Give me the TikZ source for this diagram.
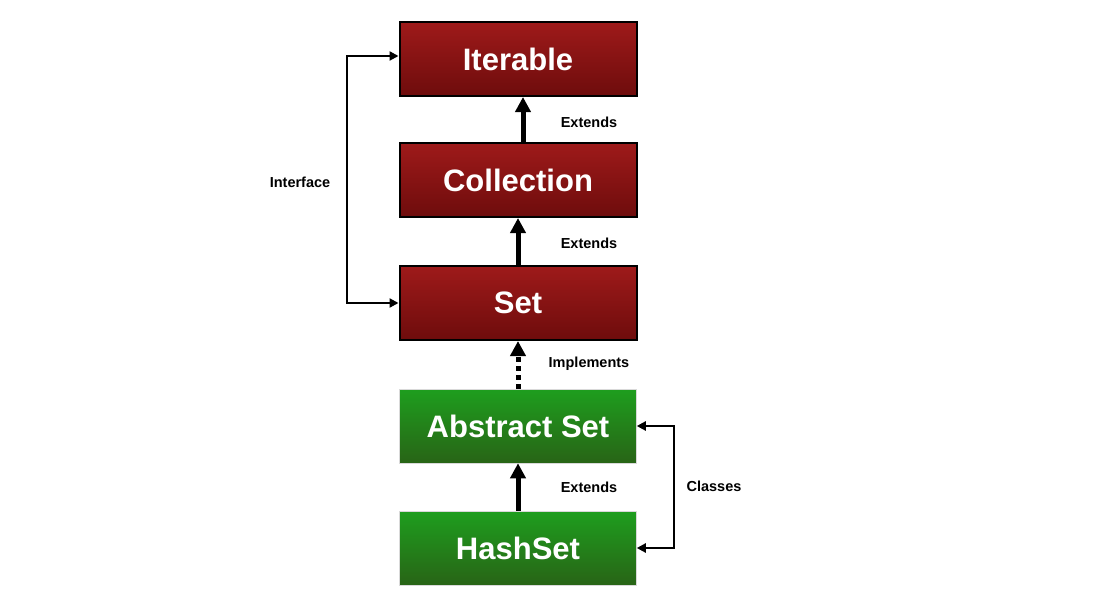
\documentclass[tikz,border=0pt]{standalone}
\usepackage{fontspec}
\setmainfont{Liberation Sans}
\usetikzlibrary{arrows.meta}
\definecolor{redtop}{RGB}{158,26,26}
\definecolor{redbot}{RGB}{110,12,12}
\definecolor{greentop}{RGB}{30,158,30}
\definecolor{greenbot}{RGB}{40,100,22}

\begin{document}
\begin{tikzpicture}[x=1pt,y=-1pt,
  redbox/.style={draw=black,line width=2pt,minimum width=237pt,minimum height=74pt,
    top color=redtop,bottom color=redbot,
    text=white,font=\fontsize{31}{36}\bfseries\selectfont},
  greenbox/.style={draw=black!15,line width=0.5pt,minimum width=237pt,minimum height=74pt,
    top color=greentop,bottom color=greenbot,
    text=white,font=\fontsize{31}{36}\bfseries\selectfont},
  relarrow/.style={line width=5pt,-{Triangle[width=15pt,length=15pt]}},
  sidearrow/.style={line width=2.2pt,{Triangle[width=9pt,length=9pt]}-{Triangle[width=9pt,length=9pt]}},
  lbl/.style={font=\fontsize{14.5}{17}\bfseries\selectfont}]
\useasboundingbox (0,0) rectangle (1105,594);
\node[redbox] (iter) at (518,59) {Iterable};
\node[redbox] (coll) at (518,180) {Collection};
\node[redbox] (set) at (518,303) {Set};
\node[greenbox] (abs) at (518,426) {Abstract Set};
\node[greenbox] (hash) at (518,548) {HashSet};
\draw[relarrow] ([xshift=5pt]coll.north) -- ([xshift=5pt]iter.south);
\draw[relarrow] (set.north) -- (coll.south);
\draw[relarrow,dash pattern=on 5pt off 4pt] (abs.north) -- (set.south);
\draw[relarrow] (hash.north) -- (abs.south);
\node[lbl] (ext1) at (589,122) {Extends};
\node[lbl] (ext2) at (589,243) {Extends};
\node[lbl] (impl) at (589,364) {Implements};
\node[lbl] (ext3) at (589,487) {Extends};
% side brackets
\coordinate (ifc) at (347,180);
\coordinate (cls) at (674,487);
\draw[sidearrow] ([yshift=3pt]iter.west) -| (ifc) |- (set.west);
\draw[sidearrow] (abs.east) -| (cls) |- (hash.east);
\node[lbl] (ifclbl) at (300,182) {Interface};
\node[lbl] (clslbl) at (714,486) {Classes};
\end{tikzpicture}
\end{document}
